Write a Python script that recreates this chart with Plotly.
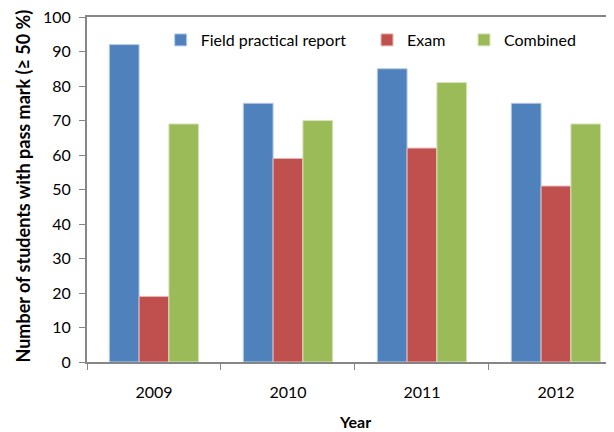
import plotly.graph_objects as go

years = ["2009", "2010", "2011", "2012"]
field_report = [92, 75, 85, 75]
exam = [19, 59, 62, 51]
combined = [69, 70, 81, 69]
y_ticks = [0, 10, 20, 30, 40, 50, 60, 70, 80, 90, 100]

FONT = "Lato"
OFF = 8  # page body margin
W, H = 614 - OFF, 432 - OFF
L = 87 - OFF
T = 17 - OFF
B = H - (362 - OFF)
pw = W - L
ph = H - T - B


# helpers take page-pixel coordinates
def px_x(x):
    return (x - 87) / pw


def px_y(y):
    return (362 - y) / ph


fig = go.Figure()
series = [
    ("Field practical report", field_report, "#4F81BD", "#B9CDE5", "legend"),
    ("Exam", exam, "#C0504D", "#E6B9B8", "legend2"),
    ("Combined", combined, "#9BBB59", "#D7E4BD", "legend3"),
]
for name, vals, col, edge, lg in series:
    fig.add_trace(go.Bar(
        x=years, y=vals, name=name, legend=lg, showlegend=True,
        marker=dict(color=col, line=dict(color=edge, width=1)),
    ))

leg_common = dict(orientation="h", xanchor="left", yanchor="middle",
                  font=dict(family=FONT, size=16, color="#000000"),
                  bgcolor="rgba(0,0,0,0)", borderwidth=0, visible=True)

fig.update_layout(
    width=W, height=H,
    showlegend=True,
    margin=dict(l=L, r=0, t=T, b=B, pad=0),
    paper_bgcolor="white", plot_bgcolor="white",
    barmode="group", bargap=0.333, bargroupgap=0,
    font=dict(family=FONT, color="#000000"),
    legend=dict(x=px_x(160.7), y=px_y(40), **leg_common),
    legend2=dict(x=px_x(367), y=px_y(40), **leg_common),
    legend3=dict(x=px_x(464), y=px_y(40), **leg_common),
    xaxis=dict(
        type="category", range=[-0.5, 3.433],
        showline=True, linecolor="#868686", linewidth=2, mirror=True,
        ticks="outside", tickson="boundaries", ticklen=6, tickcolor="#868686", tickwidth=1,
        tickfont=dict(family=FONT, size=16, color="#000000"),
        ticklabelstandoff=15,
        showgrid=False, zeroline=False,
    ),
    yaxis=dict(
        range=[0, 100], tickvals=y_ticks,
        showline=True, linecolor="#868686", linewidth=2,
        ticks="outside", ticklen=6, tickcolor="#868686", tickwidth=1,
        tickfont=dict(family=FONT, size=16, color="#000000"),
        ticklabelstandoff=5, ticklabeloverflow="allow",
        showgrid=False, zeroline=False,
    ),
    annotations=[
        dict(text="<b>Number of students with pass mark (≥ 50 %)</b>",
             xref="paper", yref="paper", x=px_x(22.5), y=px_y(186),
             xanchor="center", yanchor="middle", textangle=-90, showarrow=False,
             font=dict(family=FONT, size=18, color="#000000")),
        dict(text="<b>Year</b>",
             xref="paper", yref="paper", x=px_x(355), y=px_y(421.5),
             xanchor="center", yanchor="middle", showarrow=False,
             font=dict(family=FONT, size=16, color="#000000")),
    ],
)

fig.write_html("out.html")
